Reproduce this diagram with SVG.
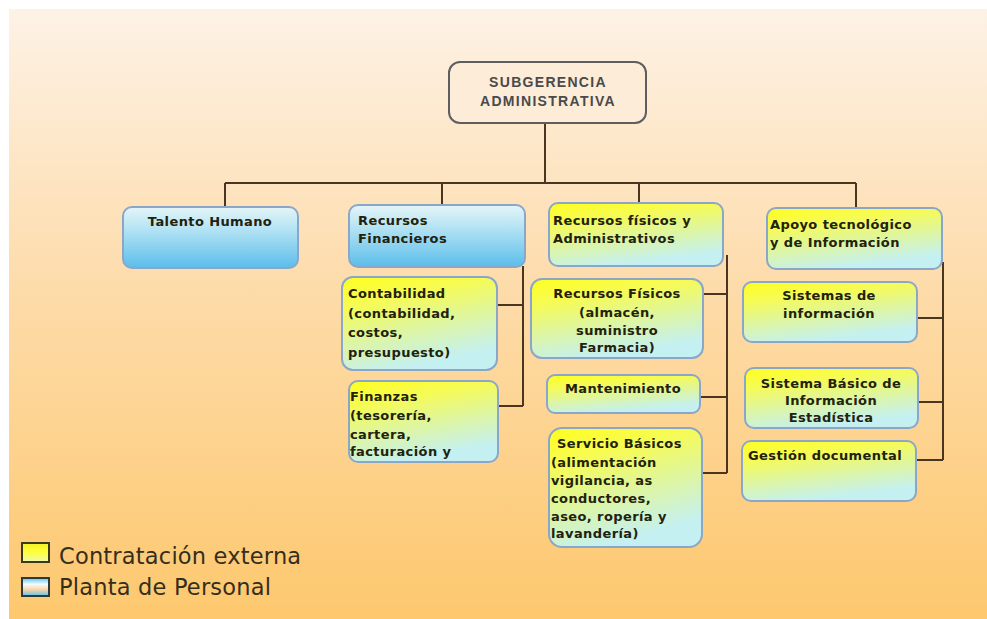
<svg xmlns="http://www.w3.org/2000/svg" width="987" height="619" viewBox="0 0 987 619">
  <defs>
    <linearGradient id="bg" x1="0" y1="0" x2="0" y2="1">
      <stop offset="0" stop-color="#fdf2e6"/>
      <stop offset="0.45" stop-color="#fddcab"/>
      <stop offset="1" stop-color="#fdc86e"/>
    </linearGradient>
    <linearGradient id="ext" x1="0" y1="0" x2="0.35" y2="1">
      <stop offset="0" stop-color="#ffff1e"/>
      <stop offset="0.3" stop-color="#f6fb55"/>
      <stop offset="1" stop-color="#c4f0f2"/>
    </linearGradient>
    <linearGradient id="staff" x1="0" y1="0" x2="0" y2="1">
      <stop offset="0" stop-color="#e4f5f7"/>
      <stop offset="0.35" stop-color="#b6e4f4"/>
      <stop offset="1" stop-color="#5bbdeb"/>
    </linearGradient>
    <linearGradient id="legExt" x1="0" y1="0" x2="0" y2="1">
      <stop offset="0" stop-color="#f2f222"/>
      <stop offset="0.5" stop-color="#ffff40"/>
      <stop offset="1" stop-color="#f0f8b0"/>
    </linearGradient>
    <linearGradient id="legStaff" x1="0" y1="0" x2="0" y2="1">
      <stop offset="0" stop-color="#58c4ee"/>
      <stop offset="0.35" stop-color="#f4fbfd"/>
      <stop offset="0.65" stop-color="#fcd2a4"/>
      <stop offset="1" stop-color="#58c4ee"/>
    </linearGradient>
  </defs>
  <style>
    .box { stroke: #8aa6c8; stroke-width: 2; }
    .ext { fill: url(#ext); }
    .staff { fill: url(#staff); }
    .t { font-family: "DejaVu Sans", Verdana, sans-serif; font-size: 13px; font-weight: bold; fill: #22220c; letter-spacing: 0.4px; }
    .c { text-anchor: middle; }
    .head { font-family: "Liberation Sans", Arial, sans-serif; font-size: 14px; font-weight: bold; fill: #4a4a4a; letter-spacing: 1.3px; text-anchor: middle; }
    .conn { stroke: #4a3620; stroke-width: 2; fill: none; }
    .leg { font-family: "DejaVu Sans", Verdana, sans-serif; font-size: 22.5px; fill: #352e1c; letter-spacing: 0.2px; }
  </style>

  <!-- background -->
  <rect x="0" y="0" width="987" height="619" fill="#ffffff"/>
  <rect x="9" y="9" width="978" height="610" fill="url(#bg)"/>

  <!-- connectors -->
  <g id="connectors">
    <path class="conn" d="M545 123 V183 M225 183 H856 M225 183 V207 M442 183 V205 M639 183 V203 M856 183 V208"/>
    <path class="conn" d="M523 266 V406 M497 305 H523 M498 406 H523"/>
    <path class="conn" d="M727 255 V473 M703 294 H727 M700 397 H727 M702 473 H727"/>
    <path class="conn" d="M943 262 V460 M917 318 H943 M918 402 H943 M916 460 H943"/>
  </g>

  <!-- top node -->
  <g id="subgerencia">
    <rect x="449" y="62" width="197" height="61" rx="11" fill="#fcecd8" stroke="#5e5e5e" stroke-width="2"/>
    <text class="head" x="548" y="87">SUBGERENCIA</text>
    <text class="head" x="548" y="106">ADMINISTRATIVA</text>
  </g>

  <!-- second level -->
  <g id="talento-humano">
    <rect class="box staff" x="123" y="207" width="175" height="61" rx="9"/>
    <text class="t c" x="210" y="226">Talento Humano</text>
  </g>
  <g id="recursos-financieros">
    <rect class="box staff" x="349" y="205" width="176" height="62" rx="9"/>
    <text class="t" x="358" y="225">Recursos</text>
    <text class="t" x="358" y="243">Financieros</text>
  </g>
  <g id="recursos-fisicos-admin">
    <rect class="box ext" x="549" y="203" width="174" height="63" rx="9"/>
    <text class="t" x="553" y="225">Recursos físicos y</text>
    <text class="t" x="553" y="243">Administrativos</text>
  </g>
  <g id="apoyo-tecnologico">
    <rect class="box ext" x="767" y="208" width="175" height="61" rx="9"/>
    <text class="t" x="770" y="229">Apoyo tecnológico</text>
    <text class="t" x="770" y="247">y de Información</text>
  </g>

  <!-- Recursos Financieros children -->
  <g id="contabilidad">
    <rect class="box ext" x="342" y="277" width="155" height="93" rx="11"/>
    <text class="t" x="348" y="298">Contabilidad</text>
    <text class="t" x="348" y="318">(contabilidad,</text>
    <text class="t" x="348" y="337">costos,</text>
    <text class="t" x="348" y="357">presupuesto)</text>
  </g>
  <g id="finanzas">
    <rect class="box ext" x="349" y="381" width="149" height="81" rx="9"/>
    <text class="t" x="350" y="401">Finanzas</text>
    <text class="t" x="350" y="420">(tesorería,</text>
    <text class="t" x="350" y="439">cartera,</text>
    <text class="t" x="350" y="456">facturación y</text>
  </g>

  <!-- Recursos físicos y Administrativos children -->
  <g id="recursos-fisicos">
    <rect class="box ext" x="531" y="279" width="172" height="79" rx="11"/>
    <text class="t c" x="617" y="298">Recursos Físicos</text>
    <text class="t c" x="617" y="317">(almacén,</text>
    <text class="t c" x="617" y="335">suministro</text>
    <text class="t c" x="617" y="352">Farmacia)</text>
  </g>
  <g id="mantenimiento">
    <rect class="box ext" x="547" y="375" width="153" height="38" rx="8"/>
    <text class="t c" x="623" y="393">Mantenimiento</text>
  </g>
  <g id="servicio-basicos">
    <rect class="box ext" x="549" y="428" width="153" height="119" rx="13"/>
    <text class="t" x="557" y="448">Servicio Básicos</text>
    <text class="t" x="551" y="467">(alimentación</text>
    <text class="t" x="551" y="485">vigilancia, as</text>
    <text class="t" x="551" y="503">conductores,</text>
    <text class="t" x="551" y="521">aseo, ropería y</text>
    <text class="t" x="551" y="538">lavandería)</text>
  </g>

  <!-- Apoyo tecnológico children -->
  <g id="sistemas-informacion">
    <rect class="box ext" x="743" y="282" width="174" height="60" rx="9"/>
    <text class="t c" x="829" y="300">Sistemas de</text>
    <text class="t c" x="829" y="318">información</text>
  </g>
  <g id="sistema-basico">
    <rect class="box ext" x="745" y="368" width="173" height="60" rx="9"/>
    <text class="t c" x="831" y="388">Sistema Básico de</text>
    <text class="t c" x="831" y="405">Información</text>
    <text class="t c" x="831" y="422">Estadística</text>
  </g>
  <g id="gestion-documental">
    <rect class="box ext" x="742" y="441" width="174" height="60" rx="9"/>
    <text class="t" x="748" y="460">Gestión documental</text>
  </g>

  <!-- legend -->
  <g id="legend">
    <rect x="22" y="543" width="27" height="19" fill="url(#legExt)" stroke="#3a3a1a" stroke-width="2"/>
    <text class="leg" x="59" y="564">Contratación externa</text>
    <rect x="22" y="578" width="27" height="18" fill="url(#legStaff)" stroke="#2a3a40" stroke-width="2"/>
    <text class="leg" x="59" y="595">Planta de Personal</text>
  </g>
</svg>
